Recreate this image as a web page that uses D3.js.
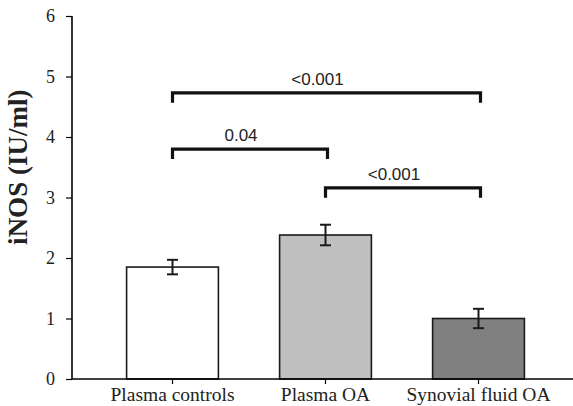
<!DOCTYPE html>
<html>
  <head>
    <meta charset="utf-8">
    <style>
      body { margin: 0; background: #fff; }
      .tick text { font-family: "Liberation Serif", "Times New Roman", serif; }
      .sig text { font-family: "Liberation Sans", Arial, sans-serif; font-size: 17px; }
    </style>
  </head>
  <body>
    <script src="https://d3js.org/d3.v7.min.js"></script>
    <script>
      // data
      var groups = ["Plasma controls", "Plasma OA", "Synovial fluid OA"];
      var means = [1.85, 2.38, 1.0];
      var errors = [0.12, 0.17, 0.16];
      var fills = ["#ffffff", "#c0c0c0", "#808080"];
      var yTicks = [0, 1, 2, 3, 4, 5, 6];

      // significance brackets: from group, to group, height, label
      var sigFrom = [0, 0, 1];
      var sigTo = [2, 1, 2];
      var sigY = [4.73, 3.80, 3.16];
      var sigText = ["<0.001", "0.04", "<0.001"];

      var width = 573, height = 406;

      var svg = d3.select("body").append("svg")
          .attr("width", width)
          .attr("height", height);

      var x = d3.scaleBand()
          .domain(groups)
          .range([96, 555])
          .paddingInner(0.4)
          .paddingOuter(0.2);

      var y = d3.scaleLinear()
          .domain([0, 6])
          .range([379, 16]);

      // bars
      svg.append("g").selectAll("rect")
          .data(groups)
        .enter().append("rect")
          .attr("x", function(d) { return x(d); })
          .attr("y", function(d, i) { return y(means[i]); })
          .attr("width", x.bandwidth())
          .attr("height", function(d, i) { return y(0) - y(means[i]); })
          .style("fill", function(d, i) { return fills[i]; })
          .style("stroke", "#1a1a1a")
          .style("stroke-width", 1.6);

      // error bars
      var err = svg.append("g").selectAll("g")
          .data(groups)
        .enter().append("g")
          .style("stroke", "#1a1a1a")
          .style("stroke-width", 2);

      function cx(d) { return x(d) + x.bandwidth() / 2; }

      err.append("line")
          .attr("x1", cx)
          .attr("x2", cx)
          .attr("y1", function(d, i) { return y(means[i] + errors[i]); })
          .attr("y2", function(d, i) { return y(means[i] - errors[i]); });
      err.append("line")
          .attr("x1", function(d) { return cx(d) - 5.5; })
          .attr("x2", function(d) { return cx(d) + 5.5; })
          .attr("y1", function(d, i) { return y(means[i] + errors[i]); })
          .attr("y2", function(d, i) { return y(means[i] + errors[i]); });
      err.append("line")
          .attr("x1", function(d) { return cx(d) - 5.5; })
          .attr("x2", function(d) { return cx(d) + 5.5; })
          .attr("y1", function(d, i) { return y(means[i] - errors[i]); })
          .attr("y2", function(d, i) { return y(means[i] - errors[i]); });

      // y axis
      var yAxis = svg.append("g")
          .attr("transform", "translate(72,0)")
          .call(d3.axisLeft(y).tickValues(yTicks).tickFormat(d3.format("d")).tickSize(6).tickPadding(11));
      yAxis.select(".domain").attr("d", "M0," + y(6) + "V" + y(0)).style("stroke-width", 1.6);
      yAxis.selectAll(".tick line").style("stroke-width", 1.2);
      yAxis.selectAll(".tick text").style("font-size", "18px").style("fill", "#222");

      // x axis
      var xAxis = svg.append("g")
          .attr("transform", "translate(0," + y(0) + ")")
          .call(d3.axisBottom(x).tickSize(5).tickPadding(3));
      xAxis.select(".domain").attr("d", "M72,0H573").style("stroke-width", 1.6);
      xAxis.selectAll(".tick line").style("stroke-width", 1.2);
      xAxis.selectAll(".tick text").style("font-size", "19.5px").style("fill", "#222");

      // y title
      svg.append("text")
          .attr("transform", "translate(27," + y(3.5) + ") rotate(-90)")
          .attr("text-anchor", "middle")
          .style("font-family", "'Liberation Serif', 'Times New Roman', serif")
          .style("font-weight", "bold")
          .style("font-size", "27px")
          .style("fill", "#222")
          .text("iNOS (IU/ml)");

      // significance brackets
      var sig = svg.append("g").attr("class", "sig").selectAll("g")
          .data(sigText)
        .enter().append("g");

      sig.append("path")
          .attr("d", function(d, i) {
            var x1 = cx(groups[sigFrom[i]]),
                x2 = cx(groups[sigTo[i]]) + 2,
                yy = y(sigY[i]);
            return "M" + x1 + "," + (yy + 10) + "V" + yy + "H" + x2 + "V" + (yy + 10);
          })
          .style("fill", "none")
          .style("stroke", "#111")
          .style("stroke-width", 3.2);

      sig.append("text")
          .attr("x", function(d, i) {
            return (cx(groups[sigFrom[i]]) + cx(groups[sigTo[i]])) / 2 - 8;
          })
          .attr("y", function(d, i) { return y(sigY[i]) - 8; })
          .attr("text-anchor", "middle")
          .style("fill", "#222")
          .text(function(d) { return d; });
    </script>
  </body>
</html>
